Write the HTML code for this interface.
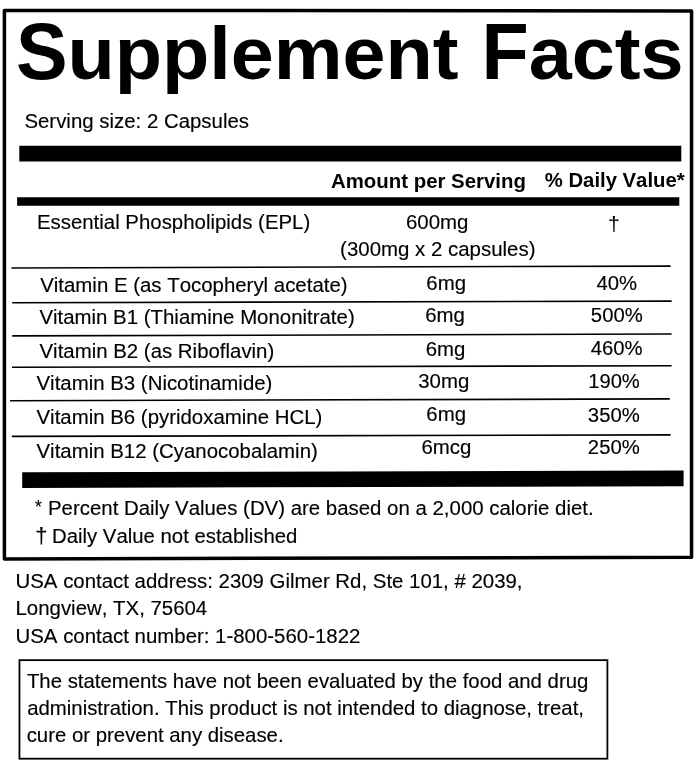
<!DOCTYPE html>
<html>
<head>
<meta charset="utf-8">
<title>Supplement Facts</title>
<style>
html,body{margin:0;padding:0;background:#fff;}
body{width:696px;height:763px;position:relative;overflow:hidden;font-family:"Liberation Sans",sans-serif;color:#000;}
svg{position:absolute;left:0;top:0;}
#txt{position:absolute;left:0;top:0;width:696px;height:763px;will-change:transform;}
.t{position:absolute;white-space:nowrap;line-height:1;margin:0;padding:0;font-kerning:none;}
.cp,.lc{display:inline-block;transform-origin:0 65px;}
.cp{transform:scaleY(1.032);}
.lc{transform:scaleY(0.97);}
.n{-webkit-text-stroke:0.15px #000;}
.c{transform:translateX(-50%);}
.r{transform:translateX(-100%);}
</style>
</head>
<body>
<svg width="696" height="763" viewBox="0 0 696 763">
<polygon fill="#000" points="19.30,145.70 681.30,145.70 681.30,161.50 19.30,161.50"/>
<polygon fill="#000" points="17.10,197.30 679.30,197.30 679.30,205.70 17.10,205.70"/>
<polygon fill="#000" points="22.20,472.30 683.60,470.40 683.60,486.20 22.20,487.90"/>
<polygon fill="none" stroke="#000" stroke-width="3.50" stroke-linejoin="round" points="4.40,10.40 691.55,11.00 691.55,557.20 4.40,559.00"/>
<line x1="11.50" y1="268.00" x2="670.60" y2="266.10" stroke="#000" stroke-width="1.60"/>
<line x1="12.20" y1="302.70" x2="671.60" y2="301.10" stroke="#000" stroke-width="1.60"/>
<line x1="12.20" y1="335.90" x2="671.60" y2="334.00" stroke="#000" stroke-width="1.60"/>
<line x1="12.00" y1="367.30" x2="671.60" y2="365.80" stroke="#000" stroke-width="1.60"/>
<line x1="10.00" y1="400.70" x2="669.80" y2="398.90" stroke="#000" stroke-width="1.60"/>
<line x1="11.80" y1="436.40" x2="670.60" y2="434.90" stroke="#000" stroke-width="1.60"/>
<rect x="19.45" y="660.15" width="587.95" height="98.55" fill="none" stroke="#000" stroke-width="1.80"/>
</svg>
<div id="txt">
<div class="t" style="left:15.90px;top:14.00px;font-size:77.37px;font-weight:bold;word-spacing:1.3px;"><span class="cp">S</span><span class="lc">upplement</span> <span class="cp">F</span><span class="lc">acts</span></div>
<div class="t n" style="left:24.40px;top:111.00px;font-size:20.42px;">Serving size: 2 Capsules</div>
<div class="t" style="left:331.00px;top:171.00px;font-size:20.40px;font-weight:bold;">Amount per Serving</div>
<div class="t" style="left:544.80px;top:170.00px;font-size:20.30px;font-weight:bold;">% Daily Value*</div>
<div class="t n" style="left:36.90px;top:212.00px;font-size:20.42px;">Essential Phospholipids (EPL)</div>
<div class="t c n" style="left:437.20px;top:212.00px;font-size:20.45px;">600mg</div>
<div class="t c n" style="left:437.80px;top:239.00px;font-size:20.45px;">(300mg x 2 capsules)</div>
<div class="t c n" style="left:614.00px;top:214.00px;font-size:20.42px;">†</div>
<div class="t n" style="left:40.20px;top:275.00px;font-size:20.42px;">Vitamin E (as Tocopheryl acetate)</div>
<div class="t c n" style="left:446.20px;top:273.00px;font-size:20.42px;">6mg</div>
<div class="t c n" style="left:616.80px;top:273.00px;font-size:20.30px;">40%</div>
<div class="t n" style="left:39.40px;top:307.00px;font-size:20.42px;">Vitamin B1 (Thiamine Mononitrate)</div>
<div class="t c n" style="left:445.00px;top:305.00px;font-size:20.42px;">6mg</div>
<div class="t c n" style="left:616.80px;top:305.00px;font-size:20.30px;">500%</div>
<div class="t n" style="left:39.50px;top:341.00px;font-size:20.42px;">Vitamin B2 (as Riboflavin)</div>
<div class="t c n" style="left:445.60px;top:339.00px;font-size:20.42px;">6mg</div>
<div class="t c n" style="left:616.60px;top:338.00px;font-size:20.30px;">460%</div>
<div class="t n" style="left:36.50px;top:373.00px;font-size:20.42px;">Vitamin B3 (Nicotinamide)</div>
<div class="t c n" style="left:443.80px;top:371.00px;font-size:20.42px;">30mg</div>
<div class="t c n" style="left:614.00px;top:371.00px;font-size:20.20px;">190%</div>
<div class="t n" style="left:36.50px;top:407.00px;font-size:20.42px;">Vitamin B6 (pyridoxamine HCL)</div>
<div class="t c n" style="left:446.20px;top:404.00px;font-size:20.42px;">6mg</div>
<div class="t c n" style="left:613.80px;top:405.00px;font-size:20.30px;">350%</div>
<div class="t n" style="left:36.50px;top:441.00px;font-size:20.42px;">Vitamin B12 (Cyanocobalamin)</div>
<div class="t c n" style="left:446.40px;top:437.00px;font-size:20.42px;">6mcg</div>
<div class="t c n" style="left:613.80px;top:437.00px;font-size:20.30px;">250%</div>
<div class="t n" style="left:35.00px;top:499.00px;font-size:17.50px;">*</div>
<div class="t n" style="left:48.00px;top:498.00px;font-size:20.42px;">Percent Daily Values (DV) are based on a 2,000 calorie diet.</div>
<div class="t n" style="left:35.20px;top:525.00px;font-size:22.00px;">†</div>
<div class="t n" style="left:52.00px;top:526.00px;font-size:20.35px;">Daily Value not established</div>
<div class="t n" style="left:15.50px;top:571.00px;font-size:20.42px;">USA contact address: 2309 Gilmer Rd, Ste 101, # 2039,</div>
<div class="t n" style="left:15.50px;top:598.00px;font-size:20.42px;">Longview, TX, 75604</div>
<div class="t n" style="left:15.50px;top:626.00px;font-size:20.42px;">USA contact number: 1-800-560-1822</div>
<div class="t n" style="left:26.90px;top:671.00px;font-size:20.38px;">The statements have not been evaluated by the food and drug</div>
<div class="t n" style="left:27.20px;top:698.00px;font-size:20.38px;">administration. This product is not intended to diagnose, treat,</div>
<div class="t n" style="left:26.70px;top:725.00px;font-size:20.38px;">cure or prevent any disease.</div>
</div>
</body>
</html>
